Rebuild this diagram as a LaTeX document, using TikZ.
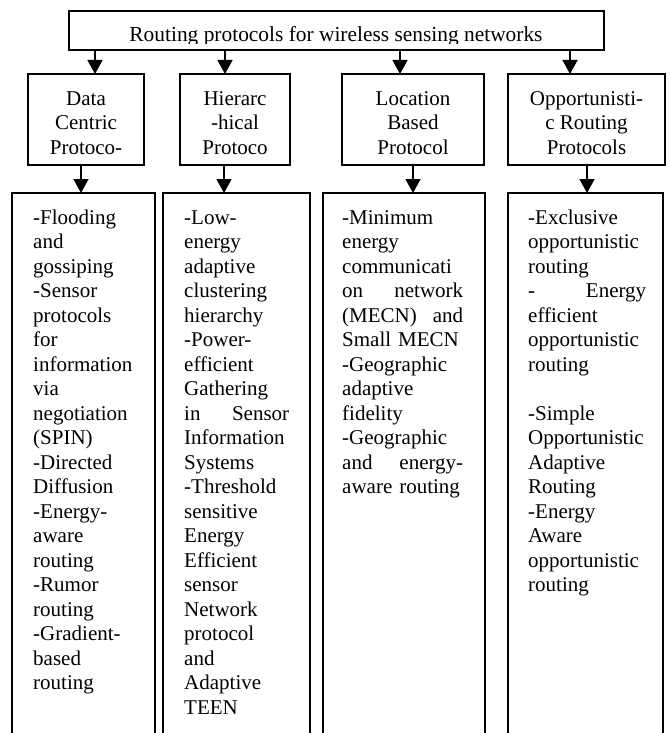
\documentclass[tikz,border=0pt]{standalone}
\usepackage{fontspec}
\setmainfont{Liberation Serif}
\usetikzlibrary{arrows.meta}

\newcommand\topgap{\rule{0pt}{20.5pt}}

\begin{document}
\begin{tikzpicture}[x=1pt, y=-1pt, >={Triangle[width=15pt,length=14pt]},
    box/.style={draw, line width=1.8pt, inner sep=0pt, outer sep=0pt, anchor=north west},
    txt/.style={font=\fontsize{21}{24.5}\selectfont, inner sep=0pt},
    cat/.style={box, txt, align=center, minimum height=91pt, minimum width=#1},
    items/.style={txt, text width=#1, align=left, anchor=base west},
    link/.style={->, line width=1.5pt}]
    % Page
    \clip (0,0) rectangle (669,733);

    % Title
    \node[box, minimum width=535pt, minimum height=39pt] (root) at (69,11) {};
    \begin{scope}
        \clip (69,11) rectangle (604,44);
        \node[txt, font=\fontsize{21.4}{24.5}\selectfont, anchor=base] (title) at (336,42) {Routing protocols for wireless sensing networks};
    \end{scope}

    % Protocol families
    \node[cat=116pt] (dc) at (28,74) {\topgap Data\\Centric\\Protoco-};
    \node[cat=110pt] (hr) at (180,74) {\topgap Hierarc\\-hical\\Protoco};
    \node[cat=142pt] (lb) at (342,74) {\topgap Location\\Based\\Protocol};
    \node[cat=157pt] (op) at (508,74) {\topgap Opportunisti-\\c Routing\\Protocols};

    \draw[link] (root.south -| 95,0) -- (dc.north -| 95,0);
    \draw[link] (root.south -| 225,0) -- (hr.north -| 225,0);
    \draw[link] (root.south -| 400,0) -- (lb.north -| 400,0);
    \draw[link] (root.south -| 570,0) -- (op.north -| 570,0);

    % Lists (open at the bottom of the page)
    \node[box, minimum width=143pt, minimum height=560pt] (dclist) at (12,193) {};
    \node[box, minimum width=147pt, minimum height=560pt] (hrlist) at (163,193) {};
    \node[box, minimum width=162pt, minimum height=560pt] (lblist) at (323,193) {};
    \node[box, minimum width=155pt, minimum height=560pt] (oplist) at (508,193) {};

    \draw[link] (dc.south -| 81,0) -- (dclist.north -| 81,0);
    \draw[link] (hr.south -| 224,0) -- (hrlist.north -| 224,0);
    \draw[link] (lb.south -| 413,0) -- (lblist.north -| 413,0);
    \draw[link] (op.south -| 587,0) -- (oplist.north -| 587,0);

    \node[items=115pt] (dctext) at (33,224) {-Flooding\\and\\gossiping\\-Sensor\\protocols\\for\\information\\via\\negotiation\\(SPIN)\\-Directed\\Diffusion\\-Energy-\\aware\\routing\\-Rumor\\routing\\-Gradient-\\based\\routing};
    \node[items=105pt] (hrtext) at (184,224) {-Low-\\energy\\adaptive\\clustering\\hierarchy\\-Power-\\efficient\\Gathering\\in \hfill Sensor\\Information\\Systems\\-Threshold\\sensitive\\Energy\\Efficient\\sensor\\Network\\protocol\\and\\Adaptive\\TEEN};
    \node[items=121pt] (lbtext) at (342,224) {-Minimum\\energy\\communicati\\on \hfill network\\(MECN) \hfill and\\Small MECN\\-Geographic\\adaptive\\fidelity\\-Geographic\\and \hfill energy-\\aware routing};
    \node[items=118pt] (optext) at (528,224) {-Exclusive\\opportunistic\\routing\\- \hfill Energy\\efficient\\opportunistic\\routing\\[24.5pt]-Simple\\Opportunistic\\Adaptive\\Routing\\-Energy\\Aware\\opportunistic\\routing};
\end{tikzpicture}
\end{document}
